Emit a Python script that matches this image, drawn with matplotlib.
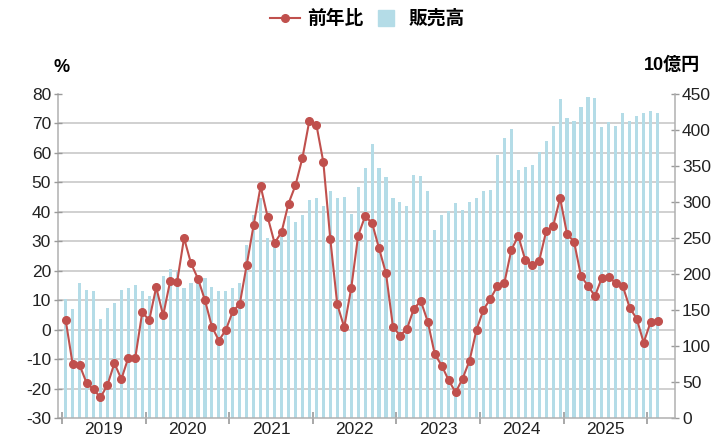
import numpy as np
import matplotlib
matplotlib.use("Agg")
import matplotlib.pyplot as plt
from matplotlib.lines import Line2D

plt.rcParams['font.family'] = ['Liberation Sans', 'Noto Sans CJK JP', 'DejaVu Sans']
plt.rcParams['axes.unicode_minus'] = False

# 前年比 (%), monthly from 2019-01
yoy = [3.3, -11.7, -12.0, -18.1, -20.3, -23.0, -18.8, -11.4, -16.8, -9.5, -9.5, 5.9,
       3.2, 14.4, 4.8, 16.4, 16.1, 31.1, 22.5, 17.3, 10.0, 1.0, -3.7, -0.1,
       6.2, 8.7, 22.0, 35.6, 48.7, 38.3, 29.4, 33.1, 42.8, 49.0, 58.3, 71.0,
       69.6, 56.9, 30.8, 8.6, 0.8, 14.0, 31.9, 38.5, 36.2, 27.6, 19.1, 1.0,
       -2.0, 0.2, 7.1, 9.7, 2.7, -8.3, -12.2, -17.2, -21.3, -16.6, -10.5, 0.0,
       6.8, 10.5, 14.8, 15.9, 27.1, 31.8, 23.6, 22.1, 23.4, 33.4, 35.1, 44.7,
       32.4, 29.9, 18.2, 14.9, 11.4, 17.6, 18.0, 15.7, 14.8, 7.4, 3.7, -4.4,
       2.6, 2.8]

# 販売高 (10億円)
sales = [165, 151, 188, 178, 177, 138, 153, 160, 178, 180, 185, 177,
         169, 178, 197, 207, 204, 180, 188, 194, 195, 182, 177, 177,
         181, 187, 240, 282, 306, 250, 245, 251, 280, 272, 282, 303,
         306, 294, 315, 306, 307, 284, 321, 347, 380, 347, 335, 306,
         300, 294, 337, 336, 315, 261, 282, 288, 299, 289, 300, 306,
         315, 317, 365, 389, 401, 344, 348, 351, 369, 385, 405, 443,
         416, 412, 432, 446, 445, 404, 411, 405, 424, 413, 420, 423,
         427, 423]

years = ['2019', '2020', '2021', '2022', '2023', '2024', '2025']
left_ticks = list(range(-30, 81, 10))
right_ticks = list(range(0, 451, 50))

x = np.arange(len(sales))
grey = '#9a9a9a'
bar_color = '#b4dce7'
line_color = '#c0504d'
fs = 12.5

fig = plt.figure(figsize=(7.21, 4.43), dpi=100)
ax = fig.add_axes([58 / 721, 25 / 443, 617 / 721, 324 / 443])
ax2 = ax.twinx()

# bars on right axis
ax.bar(x, sales, width=0.45, color=bar_color, zorder=2)
ax.set_ylim(0, 450)
ax.set_xlim(-1.1, 87.5)
ax.yaxis.tick_right()
ax.set_yticks(right_ticks)
ax.tick_params(axis='y', which='major', direction='inout', length=6, width=1, color=grey,
               labelsize=fs, pad=2, labelcolor='#222222')

# grid lines follow the left axis
grid_pos = [(v + 30) * 450 / 110 for v in left_ticks]
ax.set_yticks(grid_pos, minor=True)
ax.tick_params(axis='y', which='minor', length=0, labelright=False, labelleft=False)
ax.grid(axis='y', which='minor', color='#c4c4c4', linewidth=1.1, zorder=0)
ax.set_axisbelow(True)

# x axis: year boundaries and centred labels
ax.set_xticks([i * 12 - 0.5 for i in range(len(years) + 1)])
ax.set_xticklabels([])
ax.set_xticks([i * 12 + 5.5 for i in range(len(years))], minor=True)
ax.set_xticklabels(years, minor=True, fontsize=fs, color='#222222')
ax.tick_params(axis='x', which='major', direction='inout', length=9, width=1.2, color=grey)
ax.tick_params(axis='x', which='minor', length=0, pad=3)

for s in ['left', 'right', 'bottom']:
    ax.spines[s].set_color('#b0b0b0')
    ax.spines[s].set_linewidth(1.1)
ax.spines['top'].set_visible(False)

# line on left axis
ax2.plot(x, yoy, color=line_color, linewidth=1.5, marker='o', markersize=5.5, zorder=3)
ax2.set_ylim(-30, 80)
ax2.yaxis.tick_left()
ax2.set_yticks(left_ticks)
ax2.tick_params(axis='y', direction='inout', length=6, width=1, color=grey,
                labelsize=fs, pad=2, labelcolor='#222222')
for s in ax2.spines.values():
    s.set_visible(False)

fig.text(62 / 721, 1 - 67 / 443, '%', ha='center', va='center', fontsize=13, fontweight='bold')
fig.text(672 / 721, 1 - 65 / 443, '10億円', ha='center', va='center', fontsize=13, fontweight='bold')

handles = [Line2D([0], [0], color=line_color, linewidth=1.5, marker='o', markersize=5.5),
           Line2D([0], [0], color=bar_color, linestyle='none', marker='s', markersize=11)]
fig.legend(handles, ['前年比', '販売高'], loc='center', bbox_to_anchor=(367 / 721, 1 - 19 / 443),
           ncol=2, frameon=False, prop={'size': 13.5, 'weight': 'bold'},
           handlelength=1.6, handletextpad=0.4, columnspacing=0.4)

fig.savefig('out.png', dpi=100)
